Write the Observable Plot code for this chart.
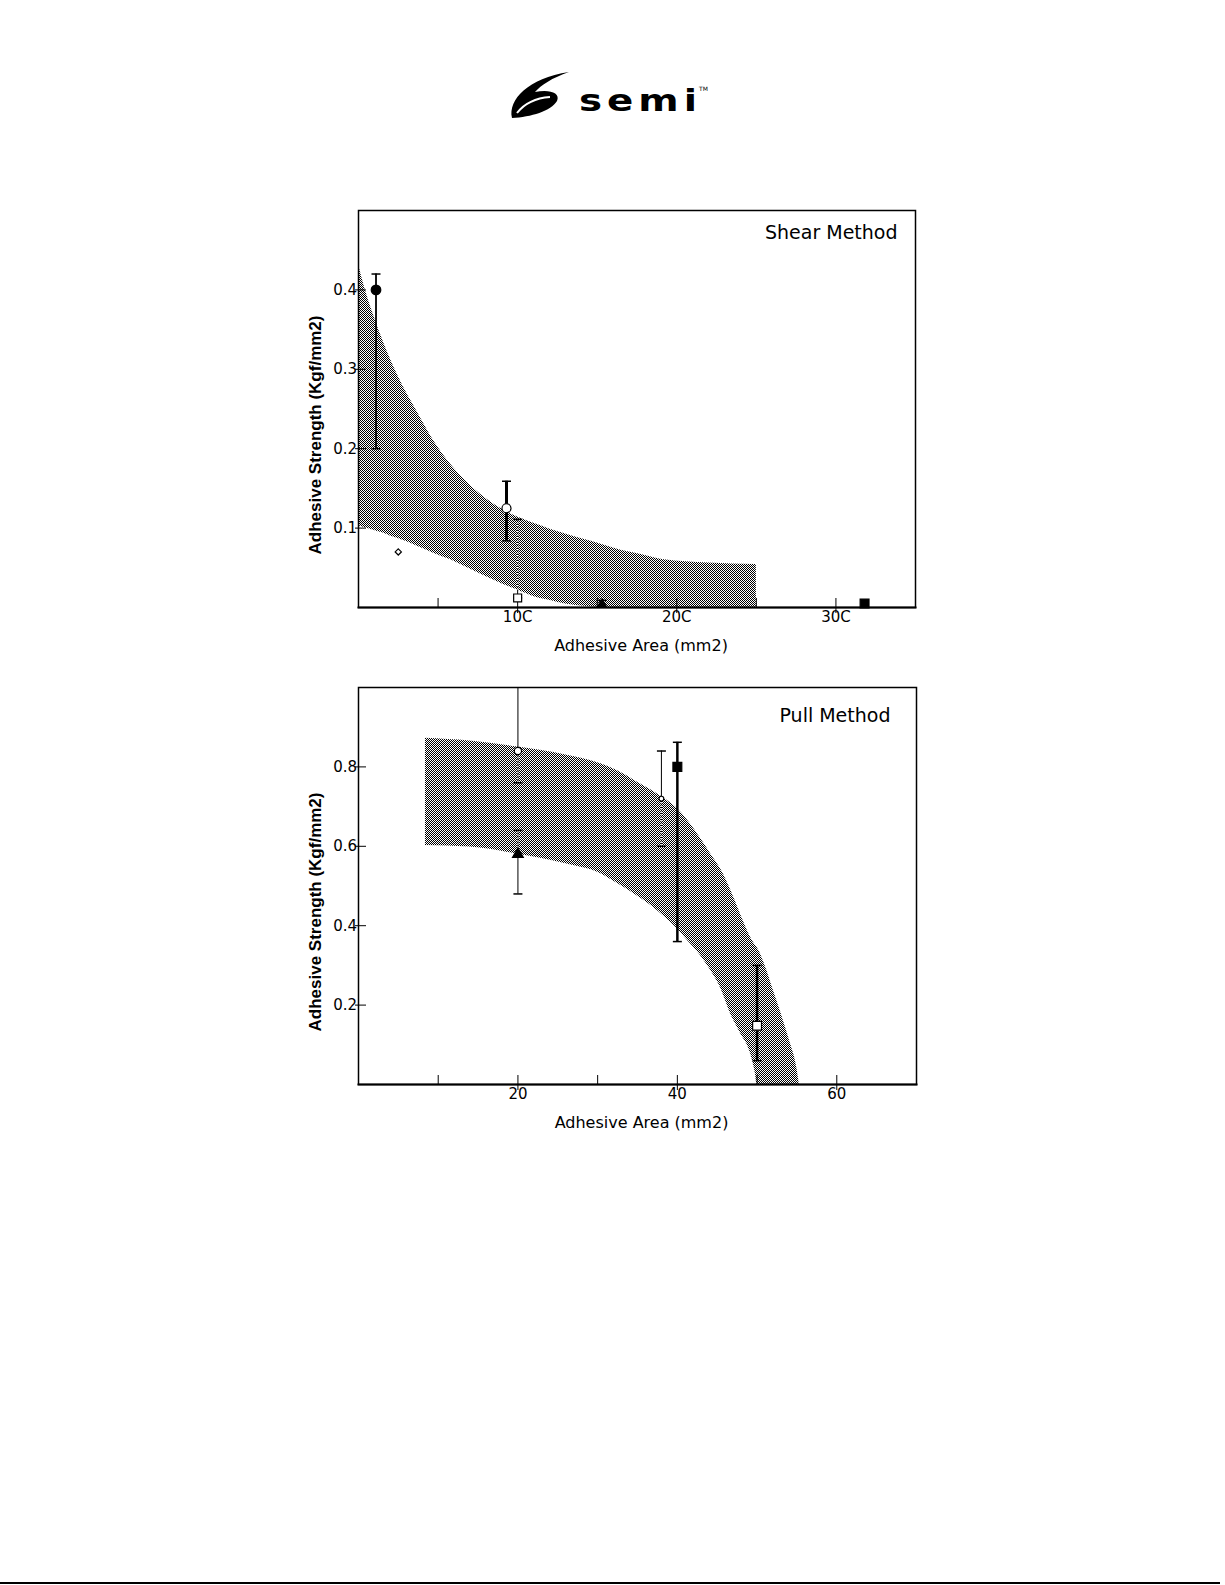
<!DOCTYPE html>
<html><head><meta charset="utf-8">
<script src="https://cdn.jsdelivr.net/npm/d3@7"></script>
<script src="https://cdn.jsdelivr.net/npm/@observablehq/plot@0.6"></script>
<style>
html,body{margin:0;padding:0;background:#fff}
body{width:1225px;height:1585px;position:relative;overflow:hidden;font-family:"DejaVu Sans",sans-serif}
#logo{position:absolute;left:0;top:0}
.chart{position:absolute}
#footer{position:absolute;left:0;top:1582px;width:1220px;height:0;border-top:2px solid #000}
</style></head><body>
<svg id="logo" width="1225" height="140">
  <path d="M512 118 C508 100 528 78 569 72 C552 78 541 85 535 92 C548 89 561 92 557 101 C551 111 531 117 512 118 Z" fill="#000"/>
  <path d="M517 113 C524 104 536 98 550 97" stroke="#fff" stroke-width="2" fill="none"/>
  <text transform="translate(579,111) scale(1.25,1)" font-family="DejaVu Sans" font-weight="bold" font-size="31" letter-spacing="4">semi</text>
  <text x="699" y="91" font-family="DejaVu Sans" font-size="6">TM</text>
</svg>
<div id="shear" class="chart" style="left:288px;top:200px"></div>
<div id="pull" class="chart" style="left:288px;top:677px"></div>
<div id="footer"></div>
<script>
// ---------- Shear Method data ----------
const shearBandX    = [0, 5, 10, 15, 20, 25, 30, 37, 47.5, 58, 68.5, 77, 90, 100, 110, 120, 131, 145, 155, 165, 177, 192, 220, 250];
const shearBandLow  = [0.103, 0.100, 0.097, 0.094, 0.090, 0.087, 0.083, 0.077, 0.068, 0.060, 0.050, 0.042, 0.030, 0.022, 0.014, 0.009, 0.004, 0.001, 0, 0, 0, 0, 0, 0];
const shearBandHigh = [0.432, 0.395, 0.365, 0.338, 0.313, 0.291, 0.271, 0.246, 0.209, 0.180, 0.157, 0.142, 0.124, 0.114, 0.106, 0.099, 0.092, 0.084, 0.078, 0.072, 0.067, 0.060, 0.056, 0.054];
const shearSeries  = ["s1", "s2", "s3", "s4", "s5", "s6"];
const shearX       = [11, 25, 93, 100, 153, 318];
const shearY       = [0.40, 0.07, 0.125, 0.012, 0.004, 0.005];
const shearErrLow  = [0.20, null, 0.084, 0.012, 0, null];
const shearErrHigh = [0.42, null, 0.159, 0.111, 0.009, null];
const shearXTicks = [100, 200, 300];
const shearXTickLabels = ["10C", "20C", "30C"];
const shearXMinor = [50, 150, 250];
const shearYTicks = [0.1, 0.2, 0.3, 0.4];
const shearYTickLabels = ["0.1", "0.2", "0.3", "0.4"];

// ---------- Pull Method data ----------
const pullBandX    = [8.4, 14, 20, 26, 30.4, 32.5, 34.6, 36.7, 38.7, 40, 41.3, 42.9, 44.2, 45.5, 46.7, 47.9, 49.2, 49.8, 50, 51, 52, 53, 54, 55, 55.3];
const pullBandLow  = [0.602, 0.598, 0.580, 0.556, 0.531, 0.506, 0.480, 0.451, 0.417, 0.392, 0.362, 0.325, 0.287, 0.240, 0.177, 0.130, 0.077, 0.026, 0, 0, 0, 0, 0, 0, 0];
const pullBandHigh = [0.872, 0.865, 0.850, 0.830, 0.808, 0.790, 0.766, 0.742, 0.716, 0.695, 0.665, 0.620, 0.580, 0.540, 0.489, 0.430, 0.370, 0.350, 0.345, 0.300, 0.240, 0.180, 0.115, 0.040, 0];
const pullSeries  = ["p1", "p2", "p3", "p4", "p5"];
const pullX       = [20, 20, 38, 40, 50];
const pullY       = [0.84, 0.58, 0.72, 0.80, 0.148];
const pullErrLow  = [0.76, 0.48, 0.60, 0.36, 0.06];
const pullErrHigh = [1.05, 0.64, 0.84, 0.862, 0.30];
const pullXTicks = [20, 40, 60];
const pullXTickLabels = ["20", "40", "60"];
const pullXMinor = [10, 30, 50];
const pullYTicks = [0.2, 0.4, 0.6, 0.8];
const pullYTickLabels = ["0.2", "0.4", "0.6", "0.8"];

const yLabel = "Adhesive Strength (Kgf/mm2)";
const xLabel = "Adhesive Area (mm2)";

// ---------- styles (not data) ----------
const markerStyle = {
  s1: {symbol: "circle", fill: "black", r: 4.8, bar: 1.8},
  s2: {symbol: "diamond2", fill: "white", r: 2.8, bar: 0},
  s3: {symbol: "circle", fill: "white", r: 4.5, bar: 3},
  s4: {symbol: "square", fill: "white", r: 4.5, bar: "thin"},
  s5: {symbol: "triangle", fill: "black", r: 3.5, bar: "thin"},
  s6: {symbol: "square", fill: "black", r: 5, bar: 0},
  p1: {symbol: "circle", fill: "white", r: 3.6, bar: "thin"},
  p2: {symbol: "triangle", fill: "black", r: 4, bar: "thin"},
  p3: {symbol: "circle", fill: "white", r: 2.4, bar: "thin"},
  p4: {symbol: "square", fill: "black", r: 5, bar: 2.5},
  p5: {symbol: "square", fill: "white", r: 5, bar: 2.5}
};

const capSymbol = {draw(ctx, size) { const w = Math.sqrt(size / Math.PI); ctx.moveTo(-w, 0); ctx.lineTo(w, 0); }};

function addPattern(svg, id) {
  const ns = "http://www.w3.org/2000/svg";
  const defs = document.createElementNS(ns, "defs");
  defs.innerHTML = `<pattern id="${id}" x="0" y="0" width="2" height="2" patternUnits="userSpaceOnUse"><rect width="2" height="2" fill="#fff" shape-rendering="crispEdges"/><rect width="1" height="1" fill="#000" shape-rendering="crispEdges"/><rect x="1" y="1" width="1" height="1" fill="#000" shape-rendering="crispEdges"/></pattern>`;
  svg.insertBefore(defs, svg.firstChild);
}

function makeChart(cfg) {
  const band = cfg.bandX.map((x, i) => ({x, lo: cfg.bandLow[i], hi: cfg.bandHigh[i]}));
  const bandLoAt = d3.scaleLinear(cfg.bandX, cfg.bandLow).clamp(true);
  const bandHiAt = d3.scaleLinear(cfg.bandX, cfg.bandHigh).clamp(true);
  const xMin = cfg.bandX[0], xMax = cfg.bandX[cfg.bandX.length - 1];
  const rows = cfg.series.map((s, i) => ({s, x: cfg.x[i], y: cfg.y[i], lo: cfg.errLow[i], hi: cfg.errHigh[i], ...markerStyle[s]}));
  const withBars = rows.filter(d => d.lo != null && d.hi != null && d.bar);
  const thinBars = withBars.filter(d => d.bar === "thin");
  const thickBars = withBars.filter(d => d.bar !== "thin");
  // part of each thin bar that lies inside the shaded band (drawn dotted, as in the original)
  const insideParts = thinBars
    .filter(d => d.x >= xMin && d.x <= xMax)
    .map(d => ({x: d.x, lo: Math.max(d.lo, bandLoAt(d.x)), hi: Math.min(d.hi, bandHiAt(d.x))}))
    .filter(d => d.hi > d.lo);
  const allXTicks = cfg.xTicks.concat(cfg.xMinor);
  const marks = [
    Plot.frame({fill: "white"}),
    Plot.areaY(band, {x: "x", y1: "lo", y2: "hi", fill: `url(#${cfg.pid})`, curve: "monotone-x"}),
    Plot.frame({stroke: "black", strokeWidth: 1.5}),
    Plot.frame({anchor: "bottom", stroke: "black", strokeWidth: 2}),
    // outward tick marks (labelled ticks)
    Plot.axisX(cfg.xTicks, {tickSize: 6, tickFormat: () => "", label: null}),
    Plot.axisY(cfg.yTicks, {tickSize: 3, tickFormat: () => "", label: null}),
    // inward tick marks
    Plot.axisX(allXTicks, {tickSize: -9, tickFormat: () => "", label: null}),
    Plot.axisY(cfg.yTicks, {tickSize: -8, tickFormat: () => "", label: null}),
    // tick labels
    Plot.axisX(cfg.xTicks, {tickSize: 0, tickPadding: 4, tickFormat: d => cfg.xTickLabels[cfg.xTicks.indexOf(d)], label: null, fontSize: 15}),
    Plot.axisY(cfg.yTicks, {tickSize: 0, tickPadding: 1.5, tickFormat: d => cfg.yTickLabels[cfg.yTicks.indexOf(d)], label: null, fontSize: 15}),
    // error bars
    Plot.ruleX(thinBars, {x: "x", y1: "lo", y2: "hi", stroke: "black", strokeWidth: 1, clip: true}),
    Plot.ruleX(insideParts, {x: "x", y1: "lo", y2: "hi", stroke: "white", strokeWidth: 1.2, strokeDasharray: "1.5,1.5", clip: true}),
    ...thickBars.map(d => Plot.ruleX([d], {x: "x", y1: "lo", y2: "hi", stroke: "black", strokeWidth: d.bar, clip: true})),
    Plot.dot(withBars, {x: "x", y: "lo", symbol: capSymbol, r: 4.5, stroke: "black", strokeWidth: 1.5, clip: true}),
    Plot.dot(withBars, {x: "x", y: "hi", symbol: capSymbol, r: 4.5, stroke: "black", strokeWidth: 1.5, clip: true}),
    // markers
    ...rows.map(d => Plot.dot([d], {x: "x", y: "y", symbol: d.symbol, r: d.r, fill: d.fill, stroke: "black", strokeWidth: 1.2})),
    // texts
    Plot.text([cfg.title], {frameAnchor: "top-right", textAnchor: "end", dx: cfg.titleDx, dy: cfg.titleDy, fontSize: 19, fill: "black"}),
    Plot.text([xLabel], {frameAnchor: "bottom", textAnchor: "middle", dx: 4, dy: 43, fontSize: 16, fill: "black"}),
    Plot.text([yLabel], {frameAnchor: "left", textAnchor: "middle", rotate: -90, dx: -43, dy: 26, fontSize: 17, fontWeight: "bold", fontFamily: "Liberation Sans", fill: "black"})
  ];
  const svg = Plot.plot({
    width: cfg.width, height: 467,
    marginLeft: 70, marginRight: 10, marginTop: 10, marginBottom: 60,
    x: {domain: cfg.xDomain},
    y: {domain: cfg.yDomain},
    style: {fontFamily: "DejaVu Sans", fontSize: "14px", color: "black", background: "white", overflow: "visible"},
    marks
  });
  addPattern(svg, cfg.pid);
  document.getElementById(cfg.el).appendChild(svg);
}

makeChart({
  el: "shear", pid: "ditherShear", width: 637, title: "Shear Method", titleDx: -18, titleDy: 15,
  xDomain: [0, 350], yDomain: [0, 0.5],
  bandX: shearBandX, bandLow: shearBandLow, bandHigh: shearBandHigh,
  series: shearSeries, x: shearX, y: shearY, errLow: shearErrLow, errHigh: shearErrHigh,
  xTicks: shearXTicks, xTickLabels: shearXTickLabels, xMinor: shearXMinor,
  yTicks: shearYTicks, yTickLabels: shearYTickLabels
});
makeChart({
  el: "pull", pid: "ditherPull", width: 638, title: "Pull Method", titleDx: -26, titleDy: 21,
  xDomain: [0, 70], yDomain: [0, 1],
  bandX: pullBandX, bandLow: pullBandLow, bandHigh: pullBandHigh,
  series: pullSeries, x: pullX, y: pullY, errLow: pullErrLow, errHigh: pullErrHigh,
  xTicks: pullXTicks, xTickLabels: pullXTickLabels, xMinor: pullXMinor,
  yTicks: pullYTicks, yTickLabels: pullYTickLabels
});
</script>
</body></html>
